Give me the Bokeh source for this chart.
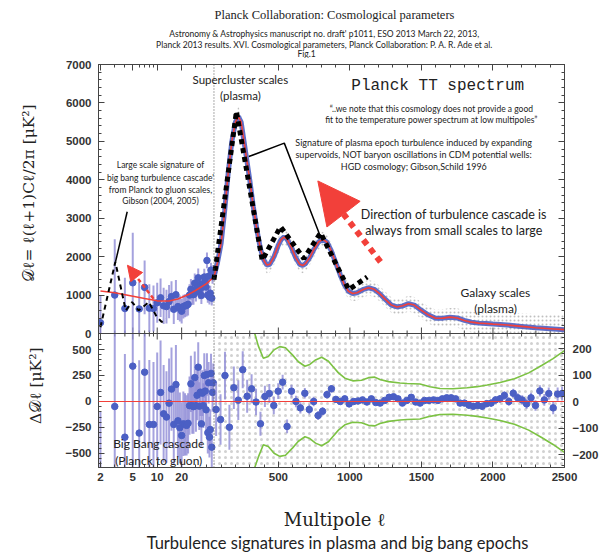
import math
import numpy as np
from bokeh.plotting import figure
from bokeh.models import (Range1d, LinearAxis, FixedTicker, CustomJSTickFormatter,
                          Span, Label, Arrow, NormalHead, BoxAnnotation)
from bokeh.layouts import column, row
from bokeh.embed import file_html
from bokeh.resources import INLINE

# ---------------- data ----------------
model_ell = [2, 3, 4.5, 7, 10, 14, 18, 25, 30, 40,
             50, 75, 100, 125, 150, 175, 200, 220, 240, 260,
             280, 300, 325, 350, 375, 400, 420, 440, 470, 500,
             520, 540, 560, 590, 620, 650, 670, 690, 720, 750,
             780, 810, 840, 870, 900, 930, 960, 990, 1020, 1050,
             1090, 1130, 1170, 1210, 1250, 1290, 1330, 1370, 1410, 1450,
             1500, 1550, 1600, 1650, 1700, 1750, 1800, 1850, 1900, 1950,
             2000, 2100, 2200, 2300, 2400, 2500]
model_D = [1105, 1060, 990, 910, 850, 845, 900, 1030, 1125, 1290,
           1470, 1850, 2350, 3200, 4200, 5000, 5500, 5650, 5500, 5000,
           4500, 4000, 3300, 2700, 2200, 1900, 1780, 1800, 2000, 2300,
           2450, 2510, 2460, 2250, 1980, 1800, 1770, 1820, 1980, 2200,
           2380, 2450, 2380, 2150, 1850, 1550, 1280, 1100, 1040, 1060,
           1140, 1190, 1150, 1030, 880, 740, 690, 720, 775, 740,
           600, 480, 395, 400, 425, 405, 340, 295, 270, 260,
           245, 220, 185, 150, 125, 100]
# half-width of the cloud of unbinned (grey) points around the model, for l >= 50
cloud_halfwidth = [300, 320, 330, 320, 300, 280, 260, 250, 250, 250,
                   250, 250, 240, 240, 230, 230, 220, 220, 210, 210,
                   210, 210, 200, 200, 200, 200, 200, 200, 200, 200,
                   200, 200, 200, 200, 200, 200, 200, 200, 200, 200,
                   200, 200, 200, 200, 200, 200, 200, 205, 205, 210,
                   215, 220, 225, 230, 240, 250, 260, 270, 280, 290,
                   300, 320, 340, 360, 380, 400]

# low-l points (l = 2..49): D_l, error, residual
ell_lo = list(range(2, 50))
D_lo = [280, 1000, 650, 1320, 640, 1200, 660, 650, 800, 930,
        720, 700, 830, 960, 630, 1010, 700, 650, 580, 700,
        720, 730, 760, 1000, 1150, 1020, 1010, 1310, 1080, 1200,
        1450, 1120, 1280, 990, 1290, 1210, 1470, 1350, 1210, 1900,
        1000, 1490, 950, 1050, 1650, 920, 1480, 1600]
err_lo = [720, 1450, 800, 1300, 700, 700, 620, 600, 520, 500,
          470, 440, 430, 400, 380, 380, 350, 340, 320, 310,
          300, 290, 290, 280, 270, 270, 260, 250, 250, 240,
          240, 230, 230, 220, 220, 215, 215, 210, 205, 205,
          200, 200, 195, 195, 190, 190, 185, 185]
res_lo = [-820, -48, -343, 340, -304, 282, -221, -221, -48, 87,
          -118, -150, -16, 119, -221, 163, -186, -253, -327, -215,
          -220, -230, -210, -40, 170, -40, -50, 230, -40, 60,
          330, -45, 90, -215, 80, -40, 250, 100, -80, 260,
          -300, 180, -343, -270, 270, -440, 87, 180]

# high-l binned residuals (right-hand scale)
ell_hi = list(range(65, 2500, 31))
res_hi = [-30, -68, 98, -97, 52, 5, 120, 20, 48, -2,
          -84, 19, 30, -15, 39, 73, -94, 39, 0, -24,
          31, -30, 0, -53, -37, 26, 48, 8, 0, 10,
          -9, 0, 2, 6, -2, 10, -4, -6, 4, 16,
          18, 10, -6, 4, 16, -2, -6, 4, 4, 6,
          4, 10, 14, 14, 10, -6, -6, -14, -18, -15,
          -18, -8, -6, 6, 10, 23, 0, 31, 14, 6,
          -9, 14, -15, 40, 6, 30, -24, 28, 30]
err_hi = [100, 95, 90, 85, 80, 75, 70, 62, 55, 50,
          45, 40, 36, 33, 30, 28, 26, 24, 22, 21,
          20, 19, 18, 17, 16, 15, 14, 13, 12, 12,
          11, 11, 10, 10, 10, 10, 10, 10, 10, 10,
          10, 10, 10, 10, 10, 10, 10, 10, 10, 10,
          10, 10, 11, 11, 11, 11, 12, 12, 12, 13,
          13, 14, 14, 15, 15, 16, 16, 17, 17, 18,
          19, 19, 20, 21, 22, 23, 24, 25, 26]

# green envelope (right-hand scale)
green_ell = [335, 360, 395, 430, 470, 510, 550, 600, 640, 686,
             720, 760, 803, 850, 880, 920, 965, 1020, 1081, 1130,
             1174, 1210, 1270, 1350, 1400, 1490, 1560, 1630, 1720, 1820,
             1890, 1960, 2050, 2150, 2250, 2340, 2420, 2500]
green_up = [270, 210, 163, 170, 195, 207, 203, 175, 150, 133,
            140, 157, 167, 152, 133, 108, 88, 78, 80, 90,
            92, 83, 75, 70, 68, 66, 56, 49, 48, 52,
            56, 62, 72, 86, 108, 136, 162, 192]
green_dn = [-270, -210, -163, -170, -195, -207, -203, -175, -150, -133,
            -140, -157, -167, -152, -133, -108, -88, -78, -80, -90,
            -92, -83, -75, -70, -68, -66, -56, -49, -48, -52,
            -56, -62, -72, -86, -108, -136, -162, -192]

# hand-drawn black dashed "turbulence" curves
dash_hi_ell = [50, 207, 387, 515, 678, 795, 992, 1121]
dash_hi_D = [1400, 5780, 1906, 2777, 1950, 2620, 1140, 1470]
dash_lo_ell = [2, 3.05, 4.1, 4.9, 5.9, 7.9, 9.9, 11.4, 12.8]
dash_lo_D = [165, 1862, 600, 818, 600, 818, 426, 300, 384]

x_major_ell = [2, 5, 10, 20, 500, 1000, 1500, 2000, 2500]
x_minor_ell = [3, 4, 6, 7, 8, 9, 30, 40, 100, 200, 300, 400, 600, 700, 800, 900,
               1100, 1200, 1300, 1400, 1600, 1700, 1800, 1900, 2100, 2200, 2300, 2400]
top_major = [0, 1000, 2000, 3000, 4000, 5000, 6000, 7000]
res_major = [-500, -250, 0, 250, 500]
right_major = [-200, -100, 0, 100, 200]

# ---------------- geometry ----------------
LOGW = 793.4          # width (in linear-l units) of the logarithmic part l = 2..50
X0, X1 = -757, 2500
TOP_H, BOT_H = 269, 134
D_TOP = 7000
D_BOT = -D_TOP * BOT_H / TOP_H
RES_LO, RES_HI = -635, 654           # visible residual range of lower panel
RIG_LO, RIG_HI = -249, 256.6         # right-hand residual range of lower panel
RES_TOP = RES_HI + (RES_HI - RES_LO) * TOP_H / BOT_H
RIG_TOP = RIG_HI + (RIG_HI - RIG_LO) * TOP_H / BOT_H


def to_u(ell):
    ell = np.asarray(ell, dtype=float)
    return np.where(ell >= 50, ell, 50 - LOGW * (1 - np.log10(ell / 2) / np.log10(25)))


def res_to_D(r, lo, top):
    return D_BOT + (np.asarray(r, dtype=float) - lo) * (D_TOP - D_BOT) / (top - lo)


BLUE = "#4b5fc4"
BAR = "#8f8bd6"
RED = "#f2403a"
GREEN = "#7cc243"
AX = "#444444"
TICKFONT = "Liberation Sans"

# tick formatters
x_fmt = CustomJSTickFormatter(code=f"""
if (tick >= 49.5) {{ return Math.round(tick).toString(); }}
const l = 2*Math.pow(25, 1 - (50 - tick)/{LOGW});
return Math.round(l).toString();
""")
BL = (RES_TOP - RES_LO) / (D_TOP - D_BOT)
AL = RES_LO - D_BOT * BL
left_fmt = CustomJSTickFormatter(code=f"""
if (tick > -1) {{ return Math.round(tick).toString(); }}
const r = Math.round(({AL} + {BL}*tick)/50)*50;
return r < 0 ? '\\u2212' + Math.abs(r) : r.toString();
""")
BR = (RIG_TOP - RIG_LO) / (D_TOP - D_BOT)
AR = RIG_LO - D_BOT * BR
right_fmt = CustomJSTickFormatter(code=f"""
if (tick > -1) {{ return ''; }}
const r = Math.round(({AR} + {BR}*tick)/20)*20;
return r < 0 ? '\\u2212' + Math.abs(r) : r.toString();
""")
blank_fmt = CustomJSTickFormatter(code="return '';")


def style(ax, labels=True):
    ax.major_tick_in = 6
    ax.major_tick_out = 0
    ax.minor_tick_in = 3
    ax.minor_tick_out = 0
    ax.axis_line_color = AX
    ax.major_tick_line_color = AX
    ax.minor_tick_line_color = AX
    ax.major_label_text_font = TICKFONT
    ax.major_label_text_font_size = "11.5px"
    ax.major_label_text_font_style = "bold"
    ax.major_label_text_color = "#333333"
    if not labels:
        ax.formatter = blank_fmt
        ax.major_label_text_font_size = "0px"
        ax.major_label_standoff = 0
    return ax


u_xmaj = [float(v) for v in to_u(x_major_ell)]
u_xmin = [float(v) for v in to_u(x_minor_ell)]

top_minor = [v for v in range(200, 7000, 200) if v % 1000]
res_minor = [v for v in range(-600, 651, 50) if v % 250]
rig_minor = [v for v in range(-240, 241, 20) if v % 100]

left_ticks = top_major + [float(v) for v in res_to_D(res_major, RES_LO, RES_TOP)]
left_minor = top_minor + [float(v) for v in res_to_D(res_minor, RES_LO, RES_TOP)]
right_ticks = top_major + [float(v) for v in res_to_D(right_major, RIG_LO, RIG_TOP)]
right_minor = top_minor + [float(v) for v in res_to_D(rig_minor, RIG_LO, RIG_TOP)]

HEAD_H = 58
TOP_PAD = 64 - HEAD_H

# ---------------- main figure (both panels share one frame) ----------------
p = figure(frame_width=466, frame_height=TOP_H + BOT_H, x_range=Range1d(X0, X1),
           y_range=Range1d(D_BOT, D_TOP), output_backend="svg", toolbar_location=None,
           min_border_left=50, min_border_right=33, min_border_top=TOP_PAD,
           min_border_bottom=22, x_axis_location=None, y_axis_location=None)
p.grid.visible = False
p.outline_line_color = AX
p.extra_y_ranges = {"res": Range1d(RES_LO, RES_TOP), "right": Range1d(RIG_LO, RIG_TOP)}

yl = style(LinearAxis(ticker=FixedTicker(ticks=left_ticks, minor_ticks=left_minor)))
yl.formatter = left_fmt
yl.major_label_standoff = 7
p.add_layout(yl, "left")
yr = style(LinearAxis(ticker=FixedTicker(ticks=right_ticks, minor_ticks=right_minor)))
yr.formatter = right_fmt
yr.major_label_standoff = 8
p.add_layout(yr, "right")
xb = style(LinearAxis(ticker=FixedTicker(ticks=u_xmaj, minor_ticks=u_xmin)))
xb.formatter = x_fmt
xb.major_label_standoff = 5
p.add_layout(xb, "below")
p.add_layout(style(LinearAxis(ticker=FixedTicker(ticks=u_xmaj, minor_ticks=u_xmin)), False), "above")

# panel separator with ticks on both sides
p.add_layout(Span(location=0, dimension="width", line_color=AX, line_width=1.2))
tick_major_len = 6 * (D_TOP - D_BOT) / (TOP_H + BOT_H)
tick_minor_len = 3 * (D_TOP - D_BOT) / (TOP_H + BOT_H)
p.segment(x0=u_xmaj, y0=[-tick_major_len] * len(u_xmaj), x1=u_xmaj,
          y1=[tick_major_len] * len(u_xmaj), line_color=AX, line_width=1)
p.segment(x0=u_xmin, y0=[-tick_minor_len] * len(u_xmin), x1=u_xmin,
          y1=[tick_minor_len] * len(u_xmin), line_color=AX, line_width=1)

# ---- lower panel: residuals ----
p.add_layout(BoxAnnotation(left=float(to_u(50)), right=X1, top=0, fill_alpha=0, fill_color=None,
                           line_alpha=0, hatch_pattern="dot", hatch_color="#9a9a9a",
                           hatch_alpha=0.45, hatch_scale=6, hatch_weight=1, level="underlay"))
p.line(green_ell, np.clip(green_up, RIG_LO, RIG_HI), line_color=GREEN, line_width=1.6,
       y_range_name="right")
p.line(green_ell, np.clip(green_dn, RIG_LO, RIG_HI), line_color=GREEN, line_width=1.6,
       y_range_name="right")
p.add_layout(Span(location=0, dimension="width", line_color=RED, line_width=1.2,
                  y_range_name="res"))

u_lo = to_u(ell_lo)
e_lo = np.array(err_lo, dtype=float)
r_lo = np.array(res_lo, dtype=float)
p.segment(x0=u_lo, y0=np.clip(r_lo - e_lo, RES_LO, RES_HI), x1=u_lo,
          y1=np.clip(r_lo + e_lo, RES_LO, RES_HI), line_color=BAR, line_width=2,
          line_alpha=0.8, y_range_name="res")
p.scatter(u_lo[r_lo > RES_LO], r_lo[r_lo > RES_LO], size=6.5, fill_color=BLUE,
          line_color=BLUE, y_range_name="res")

u_h = to_u(ell_hi)
r_hi = np.array(res_hi, dtype=float)
e_hi = np.array(err_hi, dtype=float)
p.segment(x0=u_h, y0=np.clip(r_hi - e_hi, RIG_LO, RIG_HI), x1=u_h,
          y1=np.clip(r_hi + e_hi, RIG_LO, RIG_HI), line_color=BAR, line_width=2,
          line_alpha=0.8, y_range_name="right")
p.scatter(u_h, r_hi, size=6.5, fill_color=BLUE, line_color=BLUE, y_range_name="right")

# ---- upper panel: spectrum ----
u_model = to_u(model_ell)
i50 = model_ell.index(50)
u_hi = u_model[i50:]
D_hi = np.array(model_D[i50:], dtype=float)
hw = np.array(cloud_halfwidth, dtype=float)
p.varea(x=u_hi, y1=np.maximum(D_hi - hw, 0), y2=D_hi + hw, fill_color=None, fill_alpha=0,
        hatch_pattern="dot", hatch_color="#8a8a8a", hatch_alpha=0.55, hatch_scale=4,
        hatch_weight=1)
p.line(u_hi, D_hi, line_color=BLUE, line_width=5, line_alpha=0.9)

D_lo_a = np.array(D_lo, dtype=float)
p.segment(x0=u_lo, y0=np.maximum(D_lo_a - e_lo, 0), x1=u_lo, y1=D_lo_a + e_lo,
          line_color=BAR, line_width=2, line_alpha=0.8)
p.scatter(u_lo, D_lo_a, size=6.5, fill_color=BLUE, line_color=BLUE)
p.line(u_model, model_D, line_color=RED, line_width=1.6)

p.line(to_u(dash_hi_ell), dash_hi_D, line_color="black", line_width=5, line_dash="5 4")
p.line(to_u(dash_lo_ell), dash_lo_D, line_color="black", line_width=2, line_dash="5 4")

p.add_layout(Span(location=float(to_u(50)), dimension="height", line_color="#555555",
                  line_dash="1 2", line_width=1))

# annotation pointer lines
p.line([293.5, 541.6, 794.6], [4604, 4954, 2515], line_color="black", line_width=1.5)
p.line([-556.4, -638.2], [3168, 1862], line_color="black", line_width=1.5)

# arrows
p.add_layout(Arrow(end=NormalHead(size=42, fill_color=RED, line_color=RED),
                   x_start=1214, y_start=1862, x_end=776, y_end=3970,
                   line_color=RED, line_width=6, line_dash="6 5"))
p.add_layout(Arrow(end=NormalHead(size=15, fill_color=RED, line_color=RED),
                   x_start=float(to_u(9.0)), y_start=906, x_end=float(to_u(4.3)), y_end=1776,
                   line_color=RED, line_width=2.5, line_dash="4 3"))


def lab(fig, x, y, text, size, font="Lato", color="#222222", range_name="default",
        angle=0.0, align="center"):
    fig.add_layout(Label(x=x, y=y, text=text, text_font=font, text_font_size=size,
                         text_color=color, text_align=align, text_baseline="middle",
                         y_range_name=range_name, angle=angle))


lab(p, 235, 6607, "Supercluster scales", "11.5px")
lab(p, 235, 6190, "(plasma)", "11.5px")
lab(p, 1614, 6433, "Planck TT spectrum", "16px", font="Liberation Mono")
lab(p, 1570, 5842, "\u201c..we note that this cosmology does not provide a good", "8.5px")
lab(p, 1570, 5563, "fit to the temperature power spectrum at low multipoles\u201d", "8.5px")
lab(p, 1447, 4970, "Signature of plasma epoch turbulence induced by expanding", "9px")
lab(p, 1447, 4649, "supervoids, NOT baryon oscillations in CDM potential wells:", "9px")
lab(p, 1447, 4343, "HGD cosmology; Gibson,Schild 1996", "9px")
lab(p, 1726, 3100, "Direction of turbulence cascade is", "12.5px")
lab(p, 1726, 2690, "always from small scales to large", "12.5px")
lab(p, 2018, 1063, "Galaxy scales", "12px")
lab(p, 2018, 645, "(plasma)", "12px")
lab(p, -324, 4388, "Large scale signature of", "8.5px")
lab(p, -324, 4056, "big bang turbulence cascade'", "8.5px")
lab(p, -324, 3735, "from Planck to gluon scales,", "8.5px")
lab(p, -324, 3455, "Gibson (2004, 2005)", "8.5px")
lab(p, -336, -401, "Big Bang cascade", "12px", range_name="res")
lab(p, -336, -563, "(Planck to gluon)", "12px", range_name="res")

MAIN_H = TOP_PAD + TOP_H + BOT_H + 22


def blank_fig(w, h):
    f = figure(width=w, height=h, x_range=Range1d(0, w), y_range=Range1d(0, h),
               output_backend="svg", toolbar_location=None, min_border=0,
               x_axis_location=None, y_axis_location=None)
    f.grid.visible = False
    f.outline_line_color = None
    return f


# y-axis titles (left strip, pixel coordinates; strip starts at y = HEAD_H)
ylab = blank_fig(48, MAIN_H)
lab(ylab, 28, MAIN_H - (193 - HEAD_H), "𝒟ℓ= ℓ(ℓ+1)Cℓ/2π  [μK²]", "15.5px",
    font="DejaVu Serif", angle=math.pi / 2)
lab(ylab, 35, MAIN_H - (399 - HEAD_H), "Δ𝒟ℓ  [μK²]", "15.5px", font="DejaVu Serif",
    angle=math.pi / 2)

# header (pixel coordinates, y measured from bottom of the strip)
head = blank_fig(597, HEAD_H)
lab(head, 334, HEAD_H - 14, "Planck Collaboration: Cosmological parameters", "12.5px",
    font="Liberation Serif")
lab(head, 324, HEAD_H - 33, "Astronomy & Astrophysics manuscript no. draft' p1011, ESO 2013 March 22, 2013,", "8.5px")
lab(head, 324, HEAD_H - 44, "Planck 2013 results. XVI. Cosmological parameters, Planck Collaboration: P. A. R. Ade et al.", "8.5px")
lab(head, 306, HEAD_H - 53, "Fig.1", "8.5px")

# footer: x-axis title and caption
FOOT_H = 552 - HEAD_H - MAIN_H
foot = blank_fig(597, FOOT_H)
lab(foot, 340, FOOT_H - (519 - HEAD_H - MAIN_H), "Multipole   ℓ", "18px", font="DejaVu Serif")
lab(foot, 337, 10, "Turbulence signatures in plasma and big bang epochs", "16.5px")

assert len(model_ell) == len(model_D)
assert len(cloud_halfwidth) == len(model_D) - i50
assert len(ell_lo) == len(D_lo) == len(err_lo) == len(res_lo)
assert len(ell_hi) == len(res_hi) == len(err_hi)
assert len(green_ell) == len(green_up) == len(green_dn)

layout = column(head, row(ylab, p), foot)
open("out.html", "w").write(file_html(layout, INLINE))
